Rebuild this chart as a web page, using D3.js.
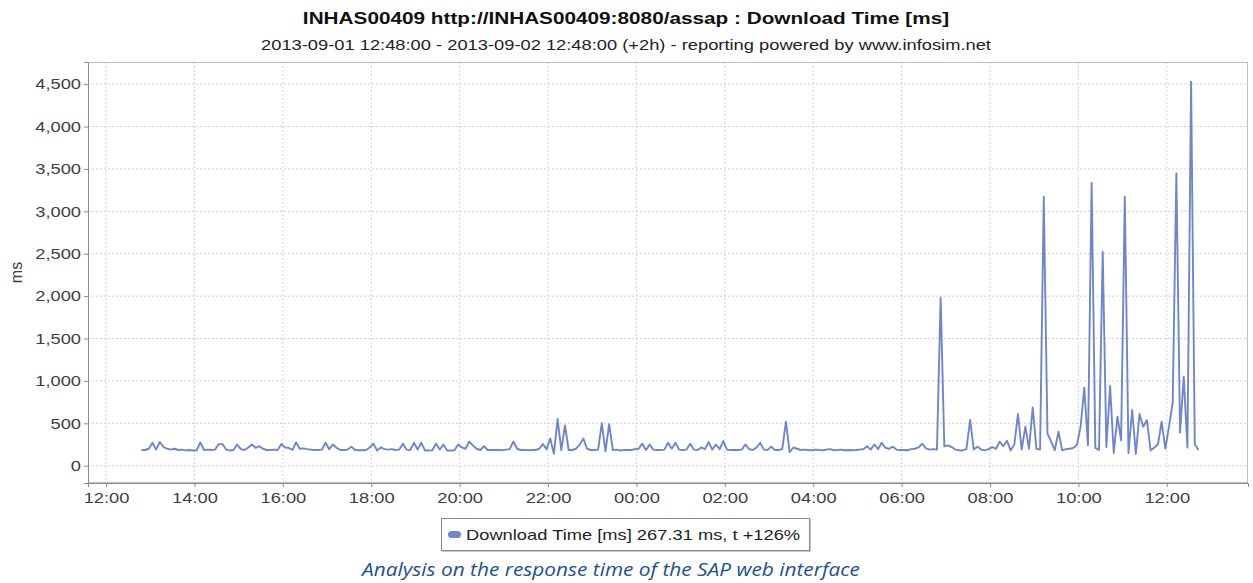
<!DOCTYPE html>
<html>
<head>
<meta charset="utf-8">
<script src="https://cdn.jsdelivr.net/npm/d3@7"></script>
<style>
  html, body { margin: 0; padding: 0; background: #fff; }
  svg { display: block; font-family: "Liberation Sans", Arial, sans-serif; }
</style>
</head>
<body>
<div id="chart"></div>
<script>
// Chart values
const titleText = 'INHAS00409 http://INHAS00409:8080/assap : Download Time [ms]';
const subtitleText = '2013-09-01 12:48:00 - 2013-09-02 12:48:00 (+2h) - reporting powered by www.infosim.net';
const legendText = 'Download Time [ms] 267.31 ms, t +126%';
const captionText = 'Analysis on the response time of the SAP web interface';
const yLabel = 'ms';

// first sample, then one sample every 5 minutes
const startTime = new Date(2013, 8, 1, 12, 48);
const stepMinutes = 5;

// download time [ms], one row = one hour
const downloadMs = [
  185, 185, 200, 270, 190, 280, 220, 200, 190, 200, 185, 190,
  180, 185, 180, 182, 275, 185, 190, 185, 190, 255, 255, 190,
  180, 185, 250, 195, 185, 215, 250, 210, 230, 200, 185, 185,
  190, 185, 255, 215, 210, 185, 275, 200, 205, 195, 190, 185,
  185, 190, 270, 195, 250, 210, 185, 185, 190, 225, 185, 182,
  182, 185, 215, 260, 180, 215, 195, 190, 195, 185, 190, 260,
  190, 185, 270, 190, 270, 180, 180, 182, 260, 190, 250, 180,
  180, 182, 250, 215, 200, 285, 240, 200, 185, 230, 185, 185,
  185, 185, 182, 190, 195, 285, 200, 185, 185, 182, 185, 185,
  200, 255, 195, 320, 140, 550, 185, 475, 185, 185, 200, 250,
  320, 200, 185, 185, 190, 500, 170, 490, 185, 190, 180, 185,
  185, 185, 195, 200, 260, 185, 250, 190, 185, 185, 190, 270,
  200, 270, 190, 185, 190, 260, 190, 185, 215, 195, 280, 190,
  250, 195, 290, 190, 185, 185, 185, 190, 250, 195, 185, 215,
  270, 190, 185, 225, 185, 185, 195, 520, 160, 215, 200, 185,
  190, 185, 182, 190, 185, 182, 190, 195, 182, 185, 190, 182,
  185, 182, 185, 190, 195, 230, 190, 250, 195, 270, 210, 200,
  225, 190, 185, 185, 182, 195, 200, 215, 260, 205, 190, 195,
  190, 1980, 230, 240, 220, 190, 182, 180, 195, 539, 190, 225,
  190, 180, 195, 220, 200, 283, 230, 295, 180, 250, 610, 190,
  460, 200, 688, 200, 190, 3172, 382, 283, 185, 401, 180, 195,
  200, 210, 245, 460, 920, 240, 3337, 210, 185, 2524, 220, 940,
  150, 578, 300, 3172, 150, 657, 140, 610, 460, 539, 180, 215,
  250, 520, 200, 460, 740, 3448, 390, 1050, 215, 4528, 250, 185
];

const yTicks = [0, 500, 1000, 1500, 2000, 2500, 3000, 3500, 4000, 4500];
const xTickHours = ['12:00', '14:00', '16:00', '18:00', '20:00', '22:00', '00:00',
                    '02:00', '04:00', '06:00', '08:00', '10:00', '12:00'];

// Layout
const width = 1253;
const height = 583;
const plot = { left: 88, right: 1248, top: 62, bottom: 483 };
const SX = 1.22; // the reference text is stretched sideways
const lineColor = '#6f87c7';

const data = downloadMs.map((v, i) => ({
  time: new Date(+startTime + i * stepMinutes * 60000),
  value: v,
}));

const svg = d3.select('#chart').append('svg')
  .attr('width', width)
  .attr('height', height);

const xScale = d3.scaleTime()
  .domain([new Date(2013, 8, 1, 11, 35, 30), new Date(2013, 8, 2, 13, 50, 15)])
  .range([plot.left, plot.right]);

const yScale = d3.scaleLinear()
  .domain([-204, 4761])
  .range([plot.bottom, plot.top]);

const xTicks = xTickHours.map((h, i) => new Date(2013, 8, 1, 12 + i * 2, 0));

function stretch(sel) {
  sel.each(function () {
    const len = this.getComputedTextLength();
    d3.select(this)
      .attr('textLength', len * SX)
      .attr('lengthAdjust', 'spacingAndGlyphs');
  });
}

// grid
const grid = svg.append('g').attr('class', 'grid');
grid.selectAll('line.gx')
  .data(xTicks)
  .join('line')
  .attr('class', 'gx')
  .attr('x1', d => xScale(d)).attr('x2', d => xScale(d))
  .attr('y1', plot.top).attr('y2', plot.bottom)
  .attr('stroke', '#d0d0d0')
  .attr('stroke-dasharray', '2,2');
grid.selectAll('line.gy')
  .data(yTicks)
  .join('line')
  .attr('class', 'gy')
  .attr('x1', plot.left).attr('x2', plot.right)
  .attr('y1', d => yScale(d)).attr('y2', d => yScale(d))
  .attr('stroke', '#d0d0d0')
  .attr('stroke-dasharray', '2,2');

// plot outline
svg.append('rect')
  .attr('x', plot.left + 0.5)
  .attr('y', plot.top + 0.5)
  .attr('width', plot.right - plot.left - 1)
  .attr('height', plot.bottom - plot.top - 1)
  .attr('fill', 'none')
  .attr('stroke', '#bdbdbd');

// data line
const line = d3.line()
  .x(d => xScale(d.time))
  .y(d => yScale(d.value));

svg.append('path')
  .datum(data)
  .attr('d', line)
  .attr('fill', 'none')
  .attr('stroke', lineColor)
  .attr('stroke-width', 1.9)
  .attr('stroke-linejoin', 'round');

// axes
const yAxis = svg.append('g')
  .attr('transform', `translate(${plot.left},0)`)
  .call(d3.axisLeft(yScale).tickValues(yTicks).tickFormat(d3.format(',')).tickSize(4).tickPadding(3));
yAxis.select('.domain').attr('stroke', '#8c8c8c');
yAxis.selectAll('.tick line').attr('stroke', '#8c8c8c');
yAxis.selectAll('.tick text')
  .attr('fill', '#404040')
  .style('font-size', '15px')
  .style('font-family', '"Liberation Sans", Arial, sans-serif')
  .call(stretch);

const xAxis = svg.append('g')
  .attr('transform', `translate(0,${plot.bottom})`)
  .call(d3.axisBottom(xScale).tickValues(xTicks).tickFormat((d, i) => xTickHours[i]).tickSize(4).tickPadding(5));
xAxis.select('.domain').attr('stroke', '#8c8c8c');
xAxis.selectAll('.tick line').attr('stroke', '#8c8c8c');
xAxis.selectAll('.tick text')
  .attr('fill', '#404040')
  .style('font-size', '15px')
  .style('font-family', '"Liberation Sans", Arial, sans-serif')
  .call(stretch);

// y axis label
svg.append('text')
  .attr('transform', `translate(22,${(plot.top + plot.bottom) / 2}) rotate(-90)`)
  .attr('text-anchor', 'middle')
  .attr('fill', '#404040')
  .style('font-size', '16px')
  .text(yLabel);

// titles
svg.append('text')
  .attr('x', 626).attr('y', 24)
  .attr('text-anchor', 'middle')
  .style('font-size', '17px')
  .style('font-weight', 'bold')
  .attr('fill', '#111')
  .text(titleText)
  .call(stretch);

svg.append('text')
  .attr('x', 626).attr('y', 50)
  .attr('text-anchor', 'middle')
  .style('font-size', '15px')
  .attr('fill', '#222')
  .text(subtitleText)
  .call(stretch);

// legend
const legend = svg.append('g');
legend.append('rect')
  .attr('x', 441.5).attr('y', 518.5)
  .attr('width', 368).attr('height', 32)
  .attr('fill', '#fff')
  .attr('stroke', '#8a8a8a');
legend.append('path')
  .attr('d', 'M442,551.5H810.5V519')
  .attr('fill', 'none')
  .attr('stroke', '#c8c8c8');
legend.append('rect')
  .attr('x', 448).attr('y', 531)
  .attr('width', 13).attr('height', 7)
  .attr('rx', 3.5)
  .attr('fill', lineColor);
legend.append('text')
  .attr('x', 466).attr('y', 540)
  .style('font-size', '15px')
  .attr('fill', '#222')
  .text(legendText)
  .call(stretch);

// caption
svg.append('text')
  .attr('x', 611).attr('y', 576)
  .attr('text-anchor', 'middle')
  .style('font-family', '"Open Sans", "Noto Sans", sans-serif')
  .style('font-style', 'italic')
  .style('font-size', '19px')
  .attr('fill', '#23508e')
  .attr('textLength', 498)
  .attr('lengthAdjust', 'spacingAndGlyphs')
  .text(captionText);
</script>
</body>
</html>
